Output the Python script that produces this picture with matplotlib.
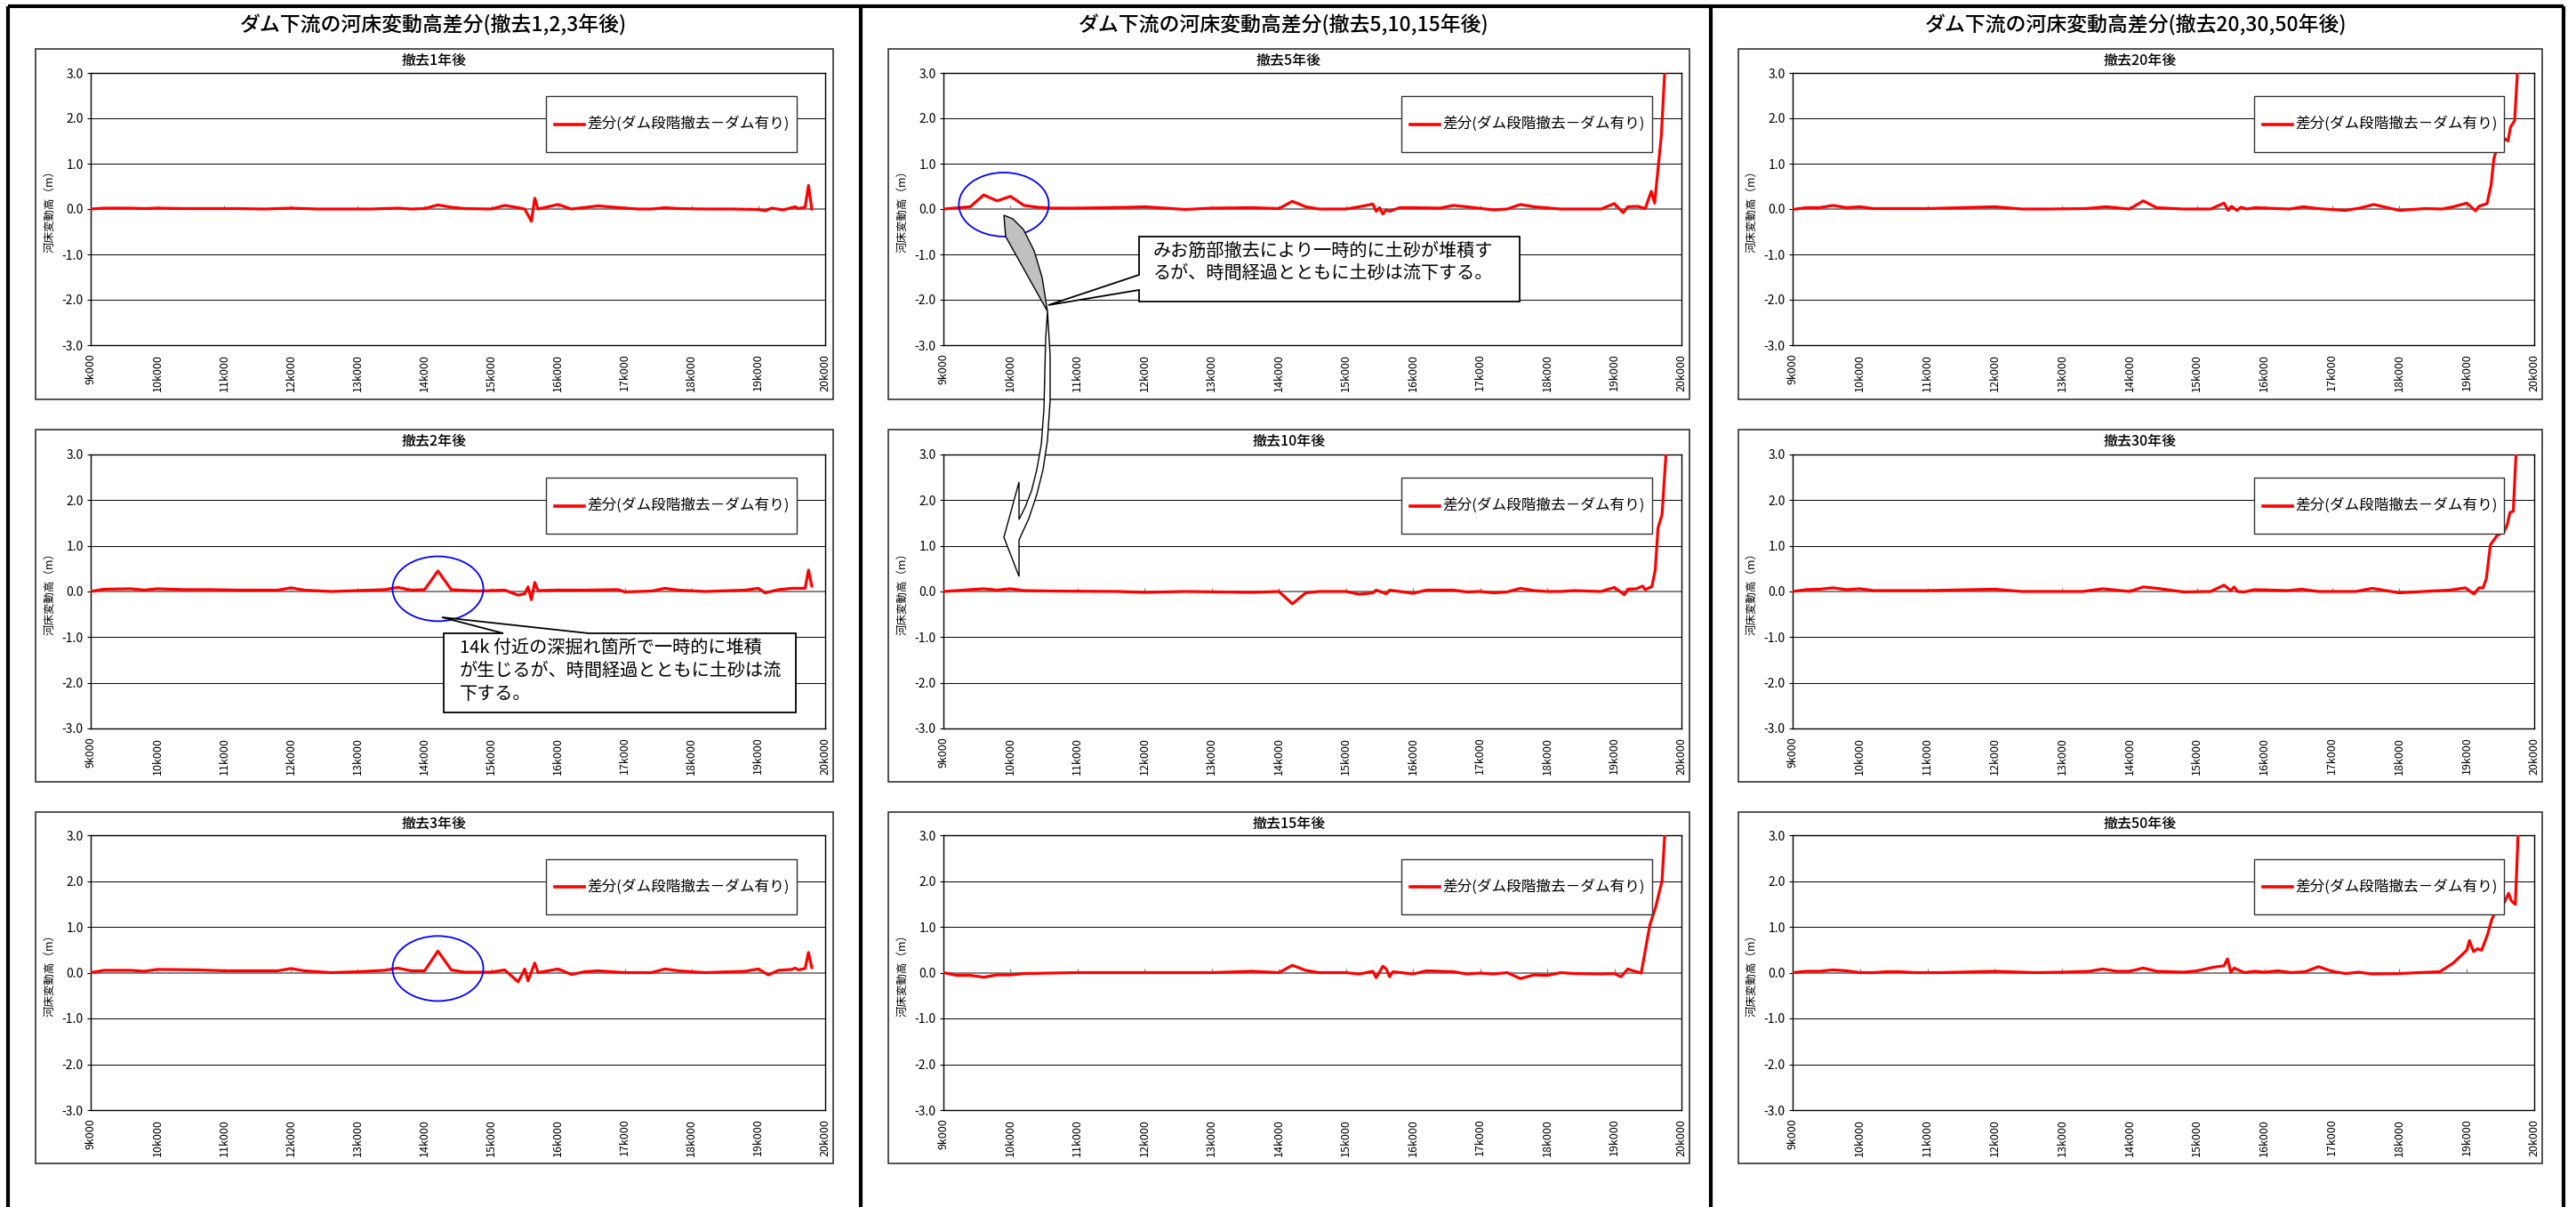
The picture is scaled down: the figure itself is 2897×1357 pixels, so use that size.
import numpy as np
import matplotlib.pyplot as plt
from matplotlib.patches import Rectangle, Ellipse, Polygon
from matplotlib.lines import Line2D

plt.rcParams['font.family'] = ['Noto Sans CJK JP', 'DejaVu Sans']

# axis ticks
km_ticks = [9, 10, 11, 12, 13, 14, 15, 16, 17, 18, 19, 20]
km_labels = ['9k000', '10k000', '11k000', '12k000', '13k000', '14k000',
             '15k000', '16k000', '17k000', '18k000', '19k000', '20k000']
dz_ticks = [3.0, 2.0, 1.0, 0.0, -1.0, -2.0, -3.0]
dz_labels = ['3.0', '2.0', '1.0', '0.0', '-1.0', '-2.0', '-3.0']

group_titles = ['ダム下流の河床変動高差分(撤去1,2,3年後)',
                'ダム下流の河床変動高差分(撤去5,10,15年後)',
                'ダム下流の河床変動高差分(撤去20,30,50年後)']
panel_titles = [['撤去1年後', '撤去2年後', '撤去3年後'],
                ['撤去5年後', '撤去10年後', '撤去15年後'],
                ['撤去20年後', '撤去30年後', '撤去50年後']]
legend_label = '差分(ダム段階撤去－ダム有り)'
y_label = '河床変動高（m）'

# bed level difference (m) along distance (km)
km1 = [9.0, 9.2, 9.4, 9.6, 9.8, 10.0, 10.4, 10.8, 11.2, 11.6, 12.0, 12.4, 12.8, 13.2, 13.6,
       13.8, 14.0, 14.2, 14.4, 14.6, 15.0, 15.2, 15.4, 15.5, 15.6, 15.65, 15.7, 16.0, 16.2, 16.6,
       17.0, 17.2, 17.4, 17.6, 17.8, 18.2, 18.6, 19.0, 19.1, 19.2, 19.37, 19.55, 19.6, 19.7, 19.75, 19.8]
dz1 = [0.0, 0.02, 0.02, 0.02, 0.01, 0.02, 0.01, 0.01, 0.01, 0.0, 0.02, 0.0, 0.0, 0.0, 0.02,
       0.0, 0.01, 0.09, 0.04, 0.01, 0.0, 0.08, 0.03, 0.0, -0.27, 0.24, 0.0, 0.1, 0.0, 0.07,
       0.02, 0.0, 0.0, 0.03, 0.01, 0.0, 0.0, -0.01, -0.04, 0.02, -0.02, 0.05, 0.01, 0.04, 0.52, 0.0]

km2 = [9.0, 9.2, 9.6, 9.8, 10.0, 10.4, 10.8, 11.2, 11.8, 12.0, 12.2, 12.6, 13.0, 13.4, 13.6,
       13.8, 14.0, 14.2, 14.4, 14.8, 15.2, 15.4, 15.5, 15.55, 15.6, 15.65, 15.7, 16.0, 16.4, 16.9,
       17.0, 17.4, 17.6, 17.8, 18.2, 18.8, 19.0, 19.1, 19.3, 19.5, 19.7, 19.75, 19.8]
dz2 = [0.0, 0.05, 0.06, 0.03, 0.06, 0.04, 0.04, 0.03, 0.03, 0.08, 0.03, 0.0, 0.02, 0.04, 0.09,
       0.03, 0.04, 0.45, 0.04, 0.01, 0.03, -0.08, -0.05, 0.1, -0.18, 0.2, 0.02, 0.03, 0.03, 0.04,
       -0.01, 0.01, 0.07, 0.03, 0.0, 0.03, 0.07, -0.03, 0.04, 0.07, 0.07, 0.47, 0.12]

km3 = [9.0, 9.2, 9.6, 9.8, 10.0, 10.6, 11.0, 11.8, 12.0, 12.2, 12.6, 13.0, 13.4, 13.6, 13.8,
       14.0, 14.2, 14.4, 14.6, 15.0, 15.2, 15.4, 15.45, 15.5, 15.55, 15.65, 15.7, 16.0, 16.2, 16.4,
       16.6, 17.0, 17.4, 17.6, 17.8, 18.2, 18.8, 19.0, 19.15, 19.3, 19.5, 19.55, 19.6, 19.7, 19.75, 19.8]
dz3 = [0.0, 0.05, 0.05, 0.03, 0.07, 0.06, 0.04, 0.04, 0.09, 0.04, 0.0, 0.02, 0.05, 0.1, 0.04,
       0.04, 0.47, 0.06, 0.01, 0.01, 0.06, -0.2, -0.07, 0.08, -0.18, 0.21, 0.0, 0.08, -0.04, 0.02,
       0.04, 0.0, 0.0, 0.08, 0.04, 0.0, 0.03, 0.08, -0.05, 0.05, 0.07, 0.1, 0.06, 0.09, 0.44, 0.11]

km5 = [9.0, 9.4, 9.6, 9.8, 10.0, 10.2, 10.4, 10.6, 11.0, 11.8, 12.0, 12.6, 13.0, 13.6, 14.0,
       14.2, 14.4, 14.6, 15.0, 15.2, 15.4, 15.45, 15.5, 15.55, 15.6, 15.65, 15.8, 16.0, 16.4, 16.6,
       16.8, 17.2, 17.4, 17.6, 17.8, 18.2, 18.8, 19.0, 19.13, 19.2, 19.35, 19.46, 19.55, 19.6, 19.7, 19.8]
dz5 = [0.0, 0.05, 0.31, 0.18, 0.28, 0.08, 0.04, 0.02, 0.02, 0.04, 0.05, -0.01, 0.02, 0.03, 0.01,
       0.17, 0.05, 0.0, 0.0, 0.05, 0.11, -0.05, 0.03, -0.11, -0.02, -0.05, 0.03, 0.03, 0.02, 0.08,
       0.05, -0.02, 0.0, 0.1, 0.05, 0.0, 0.0, 0.12, -0.08, 0.05, 0.06, 0.01, 0.39, 0.13, 1.62, 4.4]

km10 = [9.0, 9.2, 9.6, 9.8, 10.0, 10.2, 10.6, 11.6, 12.0, 12.6, 13.6, 14.0, 14.2, 14.4, 14.6,
        15.0, 15.2, 15.4, 15.45, 15.6, 15.65, 15.8, 16.0, 16.2, 16.6, 16.8, 17.0, 17.2, 17.4, 17.6,
        17.8, 18.0, 18.2, 18.4, 18.8, 19.0, 19.15, 19.2, 19.33, 19.42, 19.46, 19.56, 19.61, 19.65, 19.71, 19.8]
dz10 = [0.0, 0.02, 0.06, 0.03, 0.06, 0.02, 0.01, 0.0, -0.02, 0.0, -0.02, 0.0, -0.27, -0.03, 0.0,
        0.0, -0.06, -0.03, 0.03, -0.05, 0.03, 0.0, -0.04, 0.03, 0.03, -0.01, 0.0, -0.03, -0.01, 0.07,
        0.02, 0.0, 0.0, 0.02, 0.0, 0.09, -0.07, 0.05, 0.06, 0.12, 0.04, 0.11, 0.48, 1.39, 1.68, 3.7]

km15 = [9.0, 9.2, 9.4, 9.6, 9.8, 10.0, 10.2, 10.6, 11.0, 12.0, 13.0, 13.6, 14.0, 14.2, 14.4,
        14.6, 15.0, 15.2, 15.4, 15.45, 15.55, 15.6, 15.65, 15.7, 16.0, 16.2, 16.6, 16.8, 17.0, 17.2,
        17.4, 17.6, 17.8, 18.0, 18.2, 18.4, 18.8, 19.0, 19.1, 19.2, 19.28, 19.4, 19.53, 19.61, 19.71, 19.8]
dz15 = [0.0, -0.06, -0.06, -0.1, -0.05, -0.05, -0.02, -0.01, 0.0, 0.0, 0.0, 0.03, 0.0, 0.16, 0.05,
        0.0, 0.0, -0.03, 0.03, -0.11, 0.14, 0.08, -0.09, 0.02, -0.03, 0.04, 0.02, -0.03, -0.01, -0.03,
        0.0, -0.13, -0.05, -0.06, 0.0, -0.02, -0.03, -0.02, -0.09, 0.08, 0.04, -0.01, 1.05, 1.4, 2.0, 4.25]

km20 = [9.0, 9.2, 9.4, 9.6, 9.8, 10.0, 10.2, 11.0, 12.0, 12.4, 12.8, 13.35, 13.65, 14.0, 14.2,
        14.4, 14.8, 15.2, 15.4, 15.46, 15.51, 15.59, 15.65, 15.74, 15.86, 16.37, 16.58, 16.79, 17.2, 17.41,
        17.62, 18.0, 18.38, 18.63, 18.8, 19.0, 19.13, 19.18, 19.22, 19.3, 19.36, 19.4, 19.45, 19.56, 19.61,
        19.65, 19.71, 19.8]
dz20 = [-0.01, 0.03, 0.03, 0.08, 0.03, 0.05, 0.01, 0.01, 0.05, 0.0, 0.0, 0.01, 0.05, 0.0, 0.18,
        0.03, 0.0, 0.0, 0.13, -0.03, 0.06, -0.03, 0.04, 0.0, 0.03, 0.0, 0.05, 0.01, -0.03, 0.02,
        0.1, -0.03, 0.01, 0.0, 0.05, 0.13, -0.04, 0.06, 0.08, 0.12, 0.52, 1.1, 1.35, 1.55, 1.5,
        1.81, 1.95, 4.3]

km30 = [9.0, 9.2, 9.4, 9.6, 9.8, 10.0, 10.2, 11.0, 12.0, 12.4, 13.3, 13.6, 14.0, 14.2, 14.4,
        14.8, 15.2, 15.4, 15.5, 15.55, 15.6, 15.7, 15.85, 16.35, 16.55, 16.8, 17.35, 17.6, 18.0, 18.35,
        18.75, 18.98, 19.09, 19.11, 19.18, 19.24, 19.29, 19.35, 19.44, 19.51, 19.55, 19.6, 19.64, 19.69, 19.8]
dz30 = [0.0, 0.04, 0.05, 0.08, 0.04, 0.06, 0.02, 0.02, 0.05, 0.0, 0.0, 0.06, 0.0, 0.1, 0.07,
        -0.01, 0.0, 0.14, 0.02, 0.1, 0.0, -0.01, 0.04, 0.02, 0.05, 0.0, 0.0, 0.07, -0.03, 0.0,
        0.03, 0.08, -0.04, -0.05, 0.08, 0.08, 0.28, 1.02, 1.21, 1.28, 1.3, 1.46, 1.73, 1.76, 5.2]

km50 = [9.0, 9.2, 9.4, 9.6, 9.8, 10.0, 10.2, 10.4, 10.6, 10.8, 11.2, 12.0, 12.6, 13.0, 13.4,
        13.6, 13.8, 14.0, 14.2, 14.4, 14.8, 15.0, 15.25, 15.4, 15.45, 15.5, 15.55, 15.7, 15.85, 16.0,
        16.2, 16.4, 16.6, 16.8, 17.0, 17.2, 17.4, 17.6, 18.0, 18.6, 18.8, 19.0, 19.04, 19.1, 19.16,
        19.22, 19.31, 19.37, 19.45, 19.56, 19.62, 19.66, 19.72, 19.8]
dz50 = [0.0, 0.03, 0.03, 0.06, 0.04, 0.0, 0.0, 0.02, 0.02, 0.0, 0.0, 0.03, 0.0, 0.01, 0.03,
        0.08, 0.03, 0.03, 0.1, 0.03, 0.01, 0.04, 0.12, 0.15, 0.3, 0.01, 0.1, 0.0, 0.03, 0.01,
        0.04, 0.0, 0.02, 0.13, 0.03, -0.02, 0.01, -0.03, -0.02, 0.02, 0.21, 0.49, 0.7, 0.46, 0.52,
        0.49, 0.84, 1.16, 1.4, 1.54, 1.73, 1.57, 1.49, 4.5]

series = [[(km1, dz1), (km2, dz2), (km3, dz3)],
          [(km5, dz5), (km10, dz10), (km15, dz15)],
          [(km20, dz20), (km30, dz30), (km50, dz50)]]

# circled spots: (column, row) -> (km, dz, width km, height m)
circles = {(0, 1): (14.2, 0.06, 1.36, 1.42),
           (0, 2): (14.2, 0.09, 1.36, 1.42),
           (1, 0): (9.9, 0.1, 1.34, 1.41)}

note_14k = '14k 付近の深掘れ箇所で一時的に堆積\nが生じるが、時間経過とともに土砂は流\n下する。'
note_mio = 'みお筋部撤去により一時的に土砂が堆積す\nるが、時間経過とともに土砂は流下する。'

# page layout in pixels
W, H = 2897, 1357
col_frame_x = [(40, 937), (999, 1900), (1955, 2859)]
col_plot_x = [(102, 928), (1061, 1891), (2016, 2850)]
col_leg_x = [(614, 896), (1576, 1858), (2535, 2816)]
col_title_x = [487, 1444, 2402]
row_frame_y = [(55, 449), (483, 879), (913, 1308)]
row_plot_y = [(82, 388), (511, 819), (939, 1248)]
row_leg_y = [(108, 171), (537, 600), (966, 1028)]

fig = plt.figure(figsize=(W / 100, H / 100), dpi=100)
fig.patch.set_facecolor('white')

canvas = fig.add_axes([0, 0, 1, 1], zorder=10)
canvas.set_xlim(0, W)
canvas.set_ylim(H, 0)
canvas.axis('off')
canvas.patch.set_alpha(0)


def px_rect(x0, y0, x1, y1):
    return [x0 / W, 1 - y1 / H, (x1 - x0) / W, (y1 - y0) / H]


for col in range(3):
    canvas.text(col_title_x[col], 28, group_titles[col], ha='center', va='center',
                fontsize=16.5, fontweight='medium')
    for row in range(3):
        fx0, fx1 = col_frame_x[col]
        fy0, fy1 = row_frame_y[row]
        canvas.add_patch(Rectangle((fx0, fy0), fx1 - fx0, fy1 - fy0, fill=False,
                                   ec='#333333', lw=1.2))
        canvas.text((fx0 + fx1) / 2, fy0 + 13, panel_titles[col][row], ha='center',
                    va='center', fontsize=11.5, fontweight='medium')

        px0, px1 = col_plot_x[col]
        py0, py1 = row_plot_y[row]
        ax = fig.add_axes(px_rect(px0, py0, px1, py1))
        ax.set_xlim(9, 20)
        ax.set_ylim(-3, 3)
        for v in [2.0, 1.0, -1.0, -2.0]:
            ax.axhline(v, color='black', lw=0.7, zorder=1)
        ax.axhline(0, color='#808080', lw=1.4, zorder=2)
        ax.vlines(km_ticks[1:-1], 0, 0.08, color='#808080', lw=0.9, zorder=2)

        km, dz = series[col][row]
        ax.plot(km, dz, color='#ff0000', lw=2.3, zorder=3)

        if (col, row) in circles:
            cx, cy, cw, ch = circles[(col, row)]
            ax.add_patch(Ellipse((cx, cy), cw, ch, fill=False, ec='#0000ff', lw=1.3, zorder=4))

        ax.set_xticks(km_ticks)
        ax.set_xticklabels(km_labels, rotation=90, fontsize=9)
        ax.tick_params(axis='x', length=0, pad=7)
        ax.set_yticks(dz_ticks)
        ax.set_yticklabels(dz_labels, fontsize=10)
        ax.tick_params(axis='y', length=3, pad=3, direction='out')
        for s in ax.spines.values():
            s.set_linewidth(1.0)
            s.set_color('black')
        ax.set_ylabel(y_label, fontsize=9)
        ax.yaxis.set_label_coords(-40 / (px1 - px0), 0.5)

        # legend box
        lx0, lx1 = col_leg_x[col]
        ly0, ly1 = row_leg_y[row]
        ym = (ly0 + ly1) / 2
        canvas.add_patch(Rectangle((lx0, ly0), lx1 - lx0, ly1 - ly0, fc='white',
                                   ec='#333333', lw=1.0, zorder=5))
        canvas.add_line(Line2D([lx0 + 10, lx0 + 43], [ym, ym], color='#ff0000', lw=2.6, zorder=6))
        canvas.text(lx0 + 46, ym, legend_label, ha='left', va='center', fontsize=12, zorder=6)

# callout near 14k (2 years)
canvas.add_patch(Polygon([(499, 712), (566, 712), (497, 694), (662, 712), (895, 712),
                          (895, 801), (499, 801)], closed=True, fc='white', ec='black',
                         lw=1.3, zorder=7))
canvas.text(517, 718, note_14k, ha='left', va='top', fontsize=14.5, linespacing=1.3, zorder=8)

# callout for the main channel (5 years)
canvas.add_patch(Polygon([(1281, 266), (1709, 266), (1709, 339), (1281, 339), (1281, 326),
                          (1179, 343), (1281, 309)], closed=True, fc='white', ec='black',
                         lw=1.3, zorder=7))
canvas.text(1297, 272, note_mio, ha='left', va='top', fontsize=14.5, linespacing=1.25, zorder=8)

# curved arrow from the 5-year circle down to the 10-year panel
canvas.add_patch(Polygon([(1129, 242), (1131, 266), (1178, 350), (1172, 312), (1163, 282),
                          (1151, 258), (1139, 246)], closed=True, fc='#c0c0c0', ec='black',
                         lw=1.0, zorder=7))
canvas.add_patch(Polygon([(1178, 350), (1181, 400), (1181, 450), (1178, 495), (1173, 528),
                          (1166, 556), (1157, 583), (1146, 607), (1146, 648), (1129, 604),
                          (1146, 542), (1146, 584), (1153, 570), (1160, 552), (1166, 528),
                          (1171, 500), (1174, 460), (1175, 420), (1176, 380)], closed=True,
                         fc='white', ec='black', lw=1.0, zorder=7))

# page border and column dividers
canvas.plot([9, 2883], [7, 7], color='black', lw=3, solid_capstyle='butt')
for x in [9, 968, 1924, 2883]:
    canvas.plot([x, x], [7, H], color='black', lw=3, solid_capstyle='butt')

fig.savefig('out.png', dpi=100)
